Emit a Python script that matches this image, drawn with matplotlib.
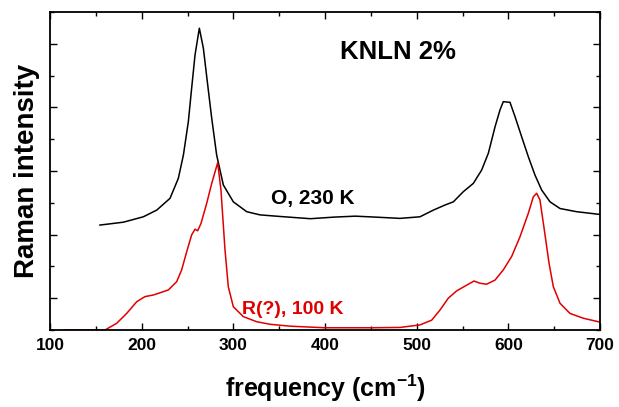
import matplotlib
matplotlib.use("Agg")
import matplotlib.pyplot as plt
from matplotlib.ticker import MultipleLocator

plt.rcParams['font.family'] = ['Liberation Sans', 'DejaVu Sans']
plt.rcParams['mathtext.fontset'] = 'custom'
plt.rcParams['mathtext.rm'] = 'Liberation Sans'
plt.rcParams['mathtext.bf'] = 'Liberation Sans:bold'

# O, 230 K spectrum (black)
freq_o = [154.5, 180, 201.8, 216.4, 230.9, 240, 245.5, 250.9, 254.5, 258.2, 262.9,
          267.3, 271.6, 276.4, 281.8, 289.1, 300, 314.6, 329.1, 351, 384, 410, 433,
          455, 481.8, 503.6, 518.2, 530.9, 540, 550.9, 561.8, 570.9, 578.2, 585.5,
          590.9, 594.5, 601.8, 607.3, 614.5, 621.8, 629.1, 636.4, 645.5, 656.4,
          674.5, 698.2, 700]
int_o = [3.30, 3.39, 3.56, 3.77, 4.14, 4.77, 5.50, 6.55, 7.60, 8.65, 9.49,
         8.86, 7.81, 6.66, 5.50, 4.56, 4.03, 3.72, 3.62, 3.57, 3.50, 3.55, 3.58,
         3.55, 3.51, 3.56, 3.77, 3.93, 4.03, 4.35, 4.61, 5.03, 5.56, 6.39,
         6.92, 7.18, 7.16, 6.71, 6.08, 5.45, 4.87, 4.40, 4.03, 3.82,
         3.72, 3.64, 3.64]

# R(?), 100 K spectrum (red)
freq_r = [115, 160, 172.7, 183.6, 194.6, 203.6, 212.7, 220, 229.1, 238.2, 243.6,
          249.1, 254.5, 258.2, 261.1, 264.7, 270.9, 276.4, 282.9, 286.5, 290.9,
          294.5, 300, 310.9, 325.5, 340, 362, 400, 450, 481.8, 503.6, 516.4, 525.5,
          534.5, 543.6, 552.7, 562.5, 569.1, 576.4, 585.5, 594.5, 603.6, 612.7,
          621.8, 627.3, 630.9, 634.5, 639.3, 644.4, 649.1, 656.4, 667.3, 681.8,
          698.2, 700]
int_r = [0.0, 0.0, 0.21, 0.52, 0.89, 1.05, 1.10, 1.17, 1.26, 1.52, 1.89,
         2.46, 2.99, 3.17, 3.12, 3.35, 3.98, 4.61, 5.26, 4.40, 2.52,
         1.36, 0.73, 0.42, 0.26, 0.18, 0.12, 0.07, 0.07, 0.08, 0.16, 0.31, 0.63,
         1.00, 1.23, 1.38, 1.54, 1.47, 1.44, 1.57, 1.89, 2.31, 2.93,
         3.67, 4.19, 4.30, 4.09, 3.14, 2.10, 1.36, 0.84, 0.52, 0.37,
         0.26, 0.26]

fig = plt.figure(figsize=(6.19, 4.07), dpi=100)
ax = fig.add_axes([0.0808, 0.1892, 0.8885, 0.7813])

ax.plot(freq_o, int_o, color='black', linewidth=1.1)
ax.plot(freq_r, int_r, color='#e00000', linewidth=1.1)

ax.set_xlim(100, 700)
ax.set_ylim(0, 10)
ax.xaxis.set_major_locator(MultipleLocator(100))
ax.xaxis.set_minor_locator(MultipleLocator(50))
ax.yaxis.set_minor_locator(MultipleLocator(1))
ax.set_yticks([1, 3, 5, 7, 9])
ax.set_yticklabels([])
ax.tick_params(which='both', direction='in', top=True, right=True, width=1.0)
ax.tick_params(which='major', length=5)
ax.tick_params(which='minor', length=3)
ax.tick_params(axis='x', labelsize=12.5, pad=6)
for lab in ax.get_xticklabels():
    lab.set_fontweight('bold')
for sp in ax.spines.values():
    sp.set_linewidth(1.3)

ax.set_ylabel('Raman intensity', fontsize=20, fontweight='bold', labelpad=4)
ax.set_xlabel(r'frequency (cm$^{\mathbf{-1}}$)', fontsize=18, fontweight='bold', labelpad=14)

ax.text(480, 8.74, 'KNLN 2%', fontsize=18.5, fontweight='bold', ha='center', va='center')
ax.text(387, 4.15, 'O, 230 K', fontsize=15, fontweight='bold', ha='center', va='center')
ax.text(365, 0.63, 'R(?), 100 K', fontsize=14, fontweight='bold', color='#e00000',
        ha='center', va='center')

fig.savefig('out.png', dpi=100)
